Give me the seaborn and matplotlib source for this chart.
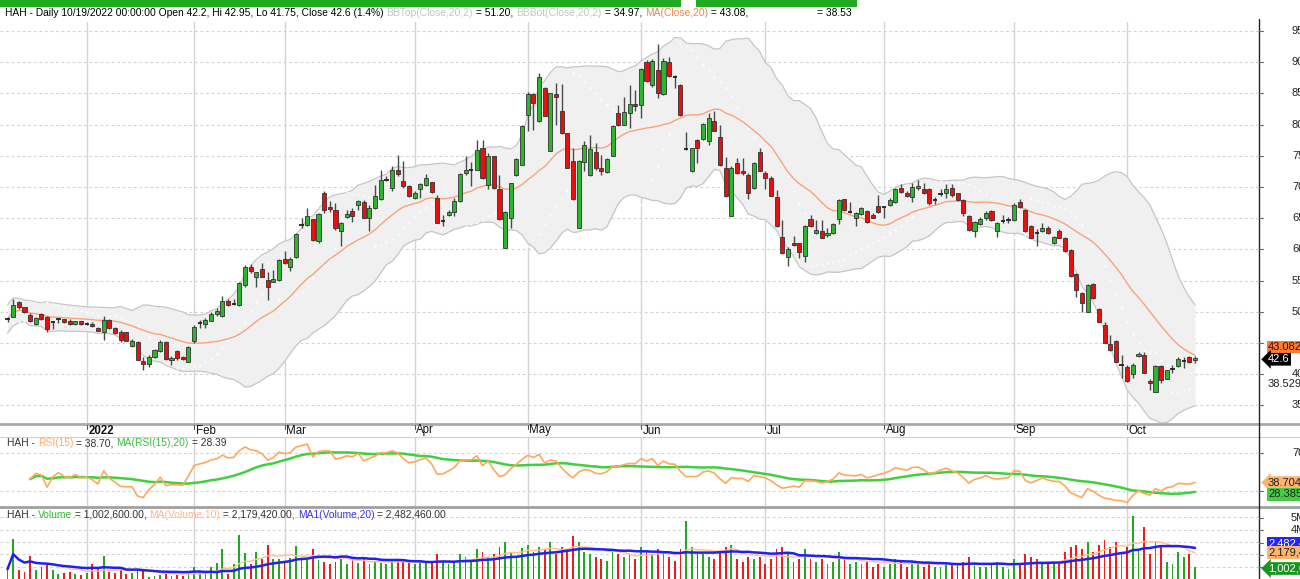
import numpy as np
import pandas as pd
import matplotlib
matplotlib.use("Agg")
import matplotlib.pyplot as plt
import seaborn as sns
from matplotlib.lines import Line2D
from matplotlib.patches import Rectangle

W, H = 1300, 579

# ---------------- data ----------------
opens = [48.75, 49.2, 51.5, 50.7, 49.5, 48.05, 49.65, 49.2, 48.25, 48.75, 48.8, 48.6, 48.0, 48.5, 48.05, 48.1, 47.4, 46.8, 48.7, 47.4,
         46.7, 46.7, 44.5, 45.2, 42.1, 41.6, 42.8, 43.7, 45.2, 42.2, 43.7, 42.7, 42.0, 45.3, 48.05, 48.05, 48.6, 49.66, 49.4, 51.8,
         51.2, 51.1, 54.3, 57.2, 55.5, 56.9, 55.1, 54.8, 55.1, 58.5, 57.2, 58.8, 63.8, 63.85, 64.8, 61.4, 69.1, 66.8, 66.3, 63.0,
         65.25, 66.1, 67.1, 67.6, 65.1, 66.7, 68.1, 71.05, 69.8, 72.8, 71.0, 70.2, 68.2, 69.6, 70.3, 70.75, 68.3, 64.4, 65.5, 66.0,
         67.8, 72.2, 72.65, 72.7, 76.3, 70.3, 74.9, 69.7, 60.3, 64.99, 71.9, 73.6, 81.5, 84.85, 80.5, 85.9, 75.8, 84.85, 82.2, 78.6,
         74.2, 63.5, 74.0, 72.0, 75.6, 73.0, 72.4, 75.0, 81.8, 80.0, 81.8, 83.3, 83.15, 89.98, 86.35, 88.75, 84.85, 90.0, 87.75, 86.35,
         75.95, 72.5, 77.5, 77.7, 77.4, 80.6, 77.96, 73.0, 65.4, 73.8, 72.6, 71.9, 69.8, 75.6, 72.2, 71.4, 68.35, 62.05, 58.8, 61.0,
         61.0, 58.9, 64.8, 62.7, 63.0, 62.25, 62.6, 64.8, 68.0, 66.0, 65.1, 65.7, 66.15, 65.5, 67.0, 66.65, 67.1, 67.65, 69.9, 69.0,
         68.45, 69.9, 69.7, 69.7, 67.75, 68.75, 69.0, 69.8, 69.0, 67.9, 65.35, 62.95, 64.0, 65.1, 66.15, 62.95, 64.4, 64.6, 64.7, 67.65,
         66.3, 63.75, 62.85, 63.0, 63.5, 61.0, 63.0, 61.9, 59.9, 56.0, 52.97, 50.0, 54.46, 50.5, 47.9, 44.8, 45.4, 41.35, 41.2, 40.0,
         42.9, 43.1, 38.9, 37.2, 41.3, 39.3, 40.7, 41.3, 42.05, 42.7, 42.2]
highs = [49.2, 52.0, 51.8, 50.8, 49.8, 49.2, 49.8, 49.3, 48.5, 49.0, 48.9, 48.85, 48.6, 48.6, 48.3, 48.4, 47.5, 49.3, 48.8, 47.6,
         47.1, 46.8, 45.6, 45.3, 42.7, 43.1, 44.1, 45.5, 45.3, 42.9, 43.9, 42.9, 44.5, 47.9, 48.7, 49.0, 49.9, 50.6, 52.6, 52.0,
         52.0, 54.8, 57.5, 57.7, 56.4, 57.8, 56.3, 56.7, 58.4, 59.7, 58.8, 62.7, 65.1, 66.7, 64.9, 65.8, 69.3, 67.8, 67.5, 64.4,
         66.3, 66.6, 67.9, 67.9, 67.1, 70.3, 72.7, 71.7, 73.3, 75.1, 74.1, 70.3, 69.3, 70.6, 72.1, 70.85, 68.7, 65.5, 66.3, 68.3,
         72.2, 74.9, 74.0, 77.5, 77.5, 75.4, 75.0, 71.9, 66.1, 70.7, 74.7, 79.9, 85.3, 85.0, 88.2, 86.1, 85.1, 86.6, 86.5, 78.7,
         76.2, 74.3, 77.3, 78.3, 77.0, 75.1, 74.6, 79.9, 83.1, 84.5, 86.3, 85.5, 89.0, 90.4, 90.5, 92.9, 90.7, 90.9, 87.9, 86.5,
         78.8, 76.3, 77.7, 80.2, 81.8, 82.1, 79.9, 74.8, 73.3, 74.6, 74.7, 72.2, 74.0, 76.2, 72.5, 71.7, 69.5, 64.7, 60.4, 62.1,
         61.1, 63.9, 65.5, 64.7, 64.7, 63.5, 64.2, 68.0, 68.1, 67.6, 66.05, 66.85, 66.3, 65.8, 68.7, 66.85, 68.3, 69.9, 70.5, 69.3,
         70.7, 71.1, 70.6, 69.8, 68.35, 69.6, 70.4, 70.4, 69.1, 68.0, 65.5, 64.6, 65.25, 66.2, 66.3, 64.45, 65.5, 65.2, 67.4, 68.0,
         66.4, 63.9, 63.2, 64.2, 63.75, 62.15, 63.2, 62.0, 60.0, 56.2, 53.2, 54.45, 54.55, 50.6, 48.3, 46.3, 45.5, 43.1, 41.5, 41.75,
         43.5, 43.5, 39.2, 41.4, 41.4, 40.7, 41.5, 42.7, 42.7, 42.9, 42.95]
lows = [48.4, 49.1, 50.4, 49.8, 48.3, 47.9, 48.7, 46.8, 47.2, 48.2, 48.2, 47.85, 47.9, 47.9, 47.9, 47.5, 46.9, 45.5, 47.3, 46.5,
        45.2, 45.3, 44.4, 42.2, 40.7, 41.2, 42.6, 43.5, 42.3, 41.5, 42.3, 42.2, 42.0, 45.0, 47.4, 47.4, 48.5, 49.4, 49.2, 51.0,
        51.1, 51.0, 54.0, 56.2, 54.0, 55.5, 51.9, 54.7, 54.9, 57.7, 56.6, 58.6, 63.4, 63.7, 61.4, 61.0, 65.9, 66.05, 63.1, 60.5,
        65.1, 64.4, 66.3, 65.0, 62.9, 66.5, 67.9, 70.9, 69.4, 71.8, 69.9, 68.4, 68.0, 68.3, 70.2, 69.0, 64.2, 63.8, 65.4, 65.4,
        67.6, 72.0, 70.2, 72.7, 71.3, 69.7, 69.7, 64.7, 60.2, 63.5, 71.8, 73.5, 79.0, 79.1, 80.4, 81.3, 75.8, 80.0, 78.45, 73.0,
        67.9, 63.4, 72.5, 71.8, 72.7, 71.9, 72.2, 74.9, 79.8, 79.9, 79.5, 82.2, 81.0, 86.9, 86.1, 84.2, 84.75, 87.7, 85.8, 81.4,
        75.9, 72.4, 73.8, 77.5, 76.7, 78.9, 73.4, 68.4, 65.4, 72.1, 72.0, 68.1, 69.7, 72.5, 69.7, 68.5, 63.6, 59.3, 57.3, 60.5,
        58.6, 58.0, 63.6, 62.45, 61.8, 62.0, 62.5, 64.1, 66.2, 65.9, 63.75, 65.5, 64.2, 65.0, 65.9, 65.0, 66.95, 67.5, 69.0, 68.35,
        67.65, 69.5, 68.9, 67.1, 67.3, 68.5, 68.2, 68.45, 67.8, 65.35, 63.0, 62.0, 63.9, 64.7, 64.6, 62.0, 64.3, 64.2, 64.6, 66.7,
        62.85, 61.8, 60.5, 62.8, 62.5, 60.9, 61.75, 59.6, 55.6, 52.4, 50.0, 49.95, 52.1, 48.3, 44.95, 43.7, 41.9, 39.35, 38.8, 39.35,
        42.8, 40.15, 37.4, 37.1, 38.55, 39.2, 40.15, 41.2, 40.95, 41.75, 41.75]
closes = [48.85, 51.1, 50.7, 49.9, 48.5, 49.0, 48.8, 47.25, 48.3, 48.85, 48.3, 48.1, 48.5, 48.0, 48.1, 47.7, 47.0, 48.7, 47.4, 46.6,
          45.5, 45.4, 45.4, 42.3, 41.6, 42.8, 43.8, 45.2, 42.4, 42.6, 42.6, 42.4, 44.4, 47.6, 48.15, 48.7, 49.7, 50.1, 51.7, 51.1,
          51.3, 54.57, 57.2, 56.5, 56.3, 55.6, 54.0, 55.2, 58.3, 57.9, 58.5, 62.5, 63.9, 65.35, 61.5, 65.7, 66.3, 66.4, 63.5, 64.3,
          65.7, 65.4, 67.8, 65.1, 66.7, 68.6, 71.1, 71.15, 72.8, 72.1, 70.1, 68.5, 69.0, 70.4, 71.4, 69.15, 64.3, 64.5, 66.0, 67.8,
          72.1, 72.8, 72.75, 75.9, 71.4, 74.9, 69.8, 64.8, 66.0, 70.6, 74.5, 79.8, 84.85, 83.4, 87.6, 81.4, 85.0, 84.4, 78.6, 73.1,
          68.0, 74.1, 76.8, 76.1, 73.0, 72.5, 74.5, 79.8, 79.9, 82.0, 83.25, 83.0, 88.86, 87.0, 90.2, 85.0, 90.2, 87.85, 87.7, 81.5,
          76.05, 76.2, 76.2, 80.05, 81.1, 79.0, 73.5, 68.5, 73.1, 72.2, 72.2, 69.0, 73.8, 72.6, 71.4, 68.6, 63.75, 59.4, 60.0, 60.7,
          59.6, 63.75, 63.75, 63.1, 61.9, 62.65, 64.0, 67.9, 66.3, 66.05, 65.8, 66.6, 64.4, 65.1, 66.0, 66.75, 67.9, 69.7, 69.15, 68.56,
          69.95, 70.15, 69.0, 67.4, 67.85, 68.85, 69.7, 68.7, 67.9, 65.9, 63.1, 64.45, 64.9, 65.8, 64.7, 64.3, 64.5, 64.7, 67.1, 66.85,
          63.0, 61.9, 62.7, 63.5, 62.6, 62.05, 61.9, 59.8, 55.7, 53.5, 51.47, 54.35, 52.15, 48.43, 45.06, 43.8, 42.0, 41.45, 38.9, 41.4,
          43.3, 40.25, 38.65, 41.3, 39.1, 40.6, 40.9, 42.4, 42.15, 41.9, 42.6]
volumes_m = [0.8, 3.24, 0.7, 0.6, 1.83, 0.7, 1.0, 1.1, 0.75, 0.4, 0.45, 0.6, 0.4, 0.3, 0.45, 1.2, 0.8, 1.9, 0.6, 0.45,
             0.75, 0.4, 0.5, 0.75, 0.7, 0.2, 0.25, 0.3, 0.4, 0.25, 0.3, 0.25, 0.6, 1.0, 0.6, 0.55, 1.0, 1.3, 2.4, 0.4,
             1.2, 3.6, 2.15, 1.2, 2.2, 1.6, 2.8, 1.6, 1.6, 1.35, 1.7, 2.7, 1.6, 1.55, 2.4, 1.55, 1.4, 1.2, 1.4, 1.6,
             1.2, 1.6, 1.3, 1.6, 1.2, 1.5, 1.3, 1.2, 1.5, 1.5, 1.4, 1.3, 1.2, 1.5, 1.3, 1.4, 2.0, 1.5, 1.2, 1.4,
             2.0, 1.8, 1.5, 2.4, 2.2, 1.8, 2.0, 2.6, 3.0, 2.2, 1.8, 2.5, 2.8, 2.2, 2.6, 2.4, 3.0, 2.0, 2.6, 2.4,
             3.5, 3.0, 2.2, 2.0, 1.8, 1.6, 1.5, 2.2, 2.0, 1.8, 2.0, 1.6, 2.6, 2.2, 2.0, 2.4, 2.2, 1.8, 1.5, 2.4,
             4.7, 2.6, 2.0, 2.0, 1.8, 1.6, 2.2, 2.6, 2.8, 1.6, 1.4, 1.8, 1.6, 1.8, 1.2, 1.6, 2.4, 2.6, 2.0, 1.4,
             1.6, 2.4, 1.6, 1.4, 1.6, 1.2, 1.4, 2.2, 1.6, 1.2, 1.4, 1.2, 1.4, 1.0, 1.2, 1.0, 1.2, 1.6, 1.4, 1.0,
             1.4, 1.2, 1.0, 1.4, 1.0, 1.0, 1.2, 1.2, 1.2, 1.4, 1.8, 1.4, 1.0, 1.0, 1.2, 1.4, 1.0, 0.8, 1.6, 1.2,
             2.0, 1.8, 1.6, 1.2, 1.2, 1.4, 1.2, 2.2, 2.6, 2.8, 2.4, 3.0, 2.2, 2.8, 3.2, 2.6, 3.0, 2.2, 2.6, 5.1,
             2.4, 4.2, 2.0, 3.0, 2.6, 1.4, 1.2, 2.2, 1.8, 2.0, 1.0026]
month_labels = ["2022", "Feb", "Mar", "Apr", "May", "Jun", "Jul", "Aug", "Sep", "Oct"]
month_index = [14, 33, 49, 72, 92, 112, 134, 155, 178, 198]
price_ticks = [95, 90, 85, 80, 75, 70, 65, 60, 55, 50, 45, 40, 35]

# ---------------- indicators ----------------
n = len(closes)
df = pd.DataFrame({"i": np.arange(n), "open": opens, "high": highs, "low": lows,
                   "close": closes, "vol": np.array(volumes_m) * 1e6})
df["ma20"] = df.close.rolling(20, min_periods=1).mean()
sd = df.close.rolling(20, min_periods=2).std(ddof=0).bfill()
df["bbtop"] = df.ma20 + 2 * sd
df["bbbot"] = df.ma20 - 2 * sd

delta = df.close.diff()
ag = delta.clip(lower=0).ewm(alpha=1 / 15, adjust=True).mean()
al = (-delta.clip(upper=0)).ewm(alpha=1 / 15, adjust=True).mean()
rsi = 100 * ag / (ag + al)
rsi[df.i < 4] = np.nan
df["rsi"] = rsi
df["rsima"] = df.rsi.rolling(20, min_periods=1).mean()
df["vma10"] = df.vol.rolling(10, min_periods=1).mean()
df["vma20"] = df.vol.rolling(20, min_periods=1).mean()


def psar(h, l, af0=0.02, afmax=0.2):
    m = len(h)
    s = np.zeros(m)
    bull, af, ep = True, af0, h[0]
    s[0] = l[0]
    for k in range(1, m):
        v = s[k - 1] + af * (ep - s[k - 1])
        if bull:
            v = min(v, l[k - 1], l[max(k - 2, 0)])
            if l[k] < v:
                bull, v, ep, af = False, ep, l[k], af0
            elif h[k] > ep:
                ep, af = h[k], min(af + af0, afmax)
        else:
            v = max(v, h[k - 1], h[max(k - 2, 0)])
            if h[k] > v:
                bull, v, ep, af = True, ep, h[k], af0
            elif l[k] < ep:
                ep, af = l[k], min(af + af0, afmax)
        s[k] = v
    return s


df["sar"] = psar(df.high.values, df.low.values)

# ---------------- figure ----------------
sns.set_style("white")
plt.rcParams["font.family"] = ["Liberation Sans", "DejaVu Sans"]
fig = plt.figure(figsize=(W / 100, H / 100), dpi=100)
fig.patch.set_facecolor("white")

X0, DX = 7.5, 5.655
XL = (-X0 / DX, (1259 - X0) / DX)


def ax_px(x0, y0, x1, y1):
    a = fig.add_axes([x0 / W, 1 - y1 / H, (x1 - x0) / W, (y1 - y0) / H])
    a.set_axis_off()
    a.set_xlim(*XL)
    return a


def fy(y):
    return 1 - y / H


def fx(x):
    return x / W


FS = 8.0
GREEN, RED = "#2db52d", "#e80f0f"

# ---- main price panel
ax = ax_px(0, 22, 1259, 423)
ax.set_ylim(32.18, 96.44)
for v in price_ticks:
    ax.axhline(v, color="#d2d2d2", lw=0.8, ls=(0, (2.5, 2.5)), zorder=0)
for m in month_index:
    ax.axvline(m, color="#d4d4d4", lw=1, zorder=0)
ax.fill_between(df.i, df.bbbot, df.bbtop, color="#f0f0f0", lw=0, zorder=1)
sns.lineplot(x=df.i, y=df.bbtop, ax=ax, color="#c6c6c6", lw=0.9, zorder=1.5, legend=False)
sns.lineplot(x=df.i, y=df.bbbot, ax=ax, color="#c6c6c6", lw=0.9, zorder=1.5, legend=False)
ax.scatter(df.i, df.sar, s=2.2, color="white", lw=0, zorder=2)
sns.lineplot(x=df.i, y=df.ma20, ax=ax, color="#f7a47c", lw=1.0, zorder=2.5, legend=False)
ax.set_axis_off()
ax.set_xlim(*XL)
ax.set_ylim(32.18, 96.44)

ax.vlines(df.i, df.low, df.high, color="#4a4a4a", lw=1, zorder=3)
body_lo = np.minimum(df.open, df.close)
body_h = (df.close - df.open).abs()
is_doji = body_h < 0.2
cols = np.where(df.close > df.open, GREEN, RED)
ax.bar(df.i[~is_doji], body_h[~is_doji], bottom=body_lo[~is_doji], width=0.72,
       color=cols[~is_doji], edgecolor="#333333", lw=0.6, zorder=4)
ax.hlines(df.close[is_doji], df.i[is_doji] - 0.38, df.i[is_doji] + 0.38, color="#222222", lw=1.3, zorder=4)

# ---- RSI panel
ar = ax_px(0, 437, 1259, 506)
ar.set_ylim(13.64, 87.43)
for v in [70, 30]:
    ar.axhline(v, color="#d2d2d2", lw=0.8, ls=(0, (2.5, 2.5)), zorder=0)
for m in month_index:
    ar.axvline(m, color="#d4d4d4", lw=1, zorder=0)
sns.lineplot(x=df.i, y=df.rsi, ax=ar, color="#ffa75c", lw=1.2, zorder=3, legend=False)
sns.lineplot(x=df.i, y=df.rsima, ax=ar, color="#3fcf3f", lw=1.8, zorder=2, legend=False)
ar.set_axis_off()
ar.set_xlim(*XL)
ar.set_ylim(13.64, 87.43)

# ---- Volume panel
av = ax_px(0, 508, 1259, 579)
av.set_ylim(0, 5.77e6)
for v in [1e6, 2e6, 3e6, 4e6, 5e6]:
    av.axhline(v, color="#d2d2d2", lw=0.8, ls=(0, (2.5, 2.5)), zorder=0)
for m in month_index:
    av.axvline(m, color="#d4d4d4", lw=1, zorder=0)
vcols = np.where(df.close > df.open, "#23a823", "#ee1c1c")
av.bar(df.i, df.vol, width=0.32, color=vcols, lw=0, zorder=2)
sns.lineplot(x=df.i, y=df.vma10, ax=av, color="#ffbf94", lw=1.0, zorder=3, legend=False)
sns.lineplot(x=df.i, y=df.vma20, ax=av, color="#2121ee", lw=1.8, zorder=4, legend=False)
av.set_axis_off()
av.set_xlim(*XL)
av.set_ylim(0, 5.77e6)

# ---- frame lines
def fline(x0, y0, x1, y1, **kw):
    fig.add_artist(Line2D([fx(x0), fx(x1)], [fy(y0), fy(y1)], transform=fig.transFigure, **kw))


fline(0, 423.8, 1300, 423.8, color="#a9a9a9", lw=2)
fline(0, 437, 1300, 437, color="#d0d0d0", lw=0.8)
fline(0, 507.3, 1300, 507.3, color="#a0a0a0", lw=2)
fline(1259, 19, 1259, 579, color="#222222", lw=1)

# top green bars
fig.add_artist(Rectangle((0, fy(7)), fx(681), 7 / H, transform=fig.transFigure, color="#22aa22", lw=0))
fig.add_artist(Rectangle((fx(696), fy(7)), fx(857 - 696), 7 / H, transform=fig.transFigure, color="#22aa22", lw=0))

# date labels
for lab, m in zip(month_labels, month_index):
    xp = X0 + DX * m
    fline(xp, 424.5, xp, 429, color="#555555", lw=0.8)
    fig.text(fx(xp + 1.5), fy(430.5), lab, fontsize=FS + 0.3, va="center", ha="left",
             color="#111111", fontweight="bold" if lab == "2022" else "normal")

# right-axis ticks / labels
def price_y(p):
    return 31 + (95 - p) * 6.24


for p in price_ticks:
    y = price_y(p)
    fline(1259, y, 1263, y, color="#666666", lw=0.8)
    if p != 45:
        fig.text(fx(1292), fy(y), str(p), fontsize=FS, va="center", ha="left", color="#222222")
fline(1259, 453.3, 1263, 453.3, color="#666666", lw=0.8)
fline(1259, 490.7, 1263, 490.7, color="#666666", lw=0.8)
fig.text(fx(1292), fy(453.3), "70", fontsize=FS, va="center", ha="left", color="#222222")
for y, t in [(517.7, "5M"), (530, "4M")]:
    fline(1259, y, 1263, y, color="#666666", lw=0.8)
    fig.text(fx(1291), fy(y), t, fontsize=FS, va="center", ha="left", color="#222222")
for y in [542.7, 555, 567]:
    fline(1259, y, 1263, y, color="#666666", lw=0.8)


def tag(x, y, s, fc, tc, arrow=False):
    style = "larrow,pad=0.12" if arrow else "square,pad=0.12"
    fig.text(fx(x), fy(y), s, fontsize=FS, va="center", ha="left", color=tc,
             bbox=dict(boxstyle=style, fc=fc, ec="none"))


tag(1268, 347, "43.082", "#ff7a35", "#3a1000")
tag(1268, 359.3, "42.6", "#000000", "white", arrow=True)
fig.text(fx(1268), fy(384), "38.529", fontsize=FS, va="center", ha="left", color="#222222")
tag(1268, 482.5, "38.704", "#ffb36b", "#222222", arrow=True)
tag(1268, 494.3, "28.385", "#45cc45", "#222222")
tag(1268, 543, "2,482,460", "#2424ff", "white")
tag(1268, 552.5, "2,179,420", "#ffb36b", "#222222")
tag(1268, 568.5, "1,002,600", "#14961e", "white", arrow=True)

# ---- header texts
renderer = fig.canvas.get_renderer()


def chain(x, y, parts, size):
    for s, c in parts:
        t = fig.text(fx(x), fy(y), s, fontsize=size, va="center", ha="left", color=c)
        bb = t.get_window_extent(renderer)
        x += bb.width


first = "HAH - Daily 10/19/2022 00:00:00 Open 42.2, Hi 42.95, Lo 41.75, Close 42.6 (1.4%) "
probe = fig.text(0, 0, first.strip(), fontsize=10)
wp = probe.get_window_extent(renderer).width
probe.remove()
HFS = 10 * 379 / wp

chain(5, 12.5, [(first, "#000000"), ("BBTop(Close,20,2)", "#c4c4c4"), (" = 51.20, ", "#000000"),
                ("BBBot(Close,20,2)", "#c4c4c4"), (" = 34.97, ", "#000000"),
                ("MA(Close,20)", "#f5844a"), (" = 43.08,", "#000000")], HFS)
fig.text(fx(817), fy(12.5), "= 38.53", fontsize=HFS, va="center", ha="left", color="#000000")

chain(7, 443.5, [("HAH - ", "#333333"), ("RSI(15)", "#ffab66"), (" = 38.70, ", "#333333"),
                 ("MA(RSI(15),20)", "#3cbf3c"), (" = 28.39", "#333333")], HFS)
chain(7, 514.5, [("HAH - ", "#333333"), ("Volume", "#3cb83c"), (" = 1,002,600.00, ", "#333333"),
                 ("MA(Volume,10)", "#ffb88a"), (" = 2,179,420.00, ", "#333333"),
                 ("MA1(Volume,20)", "#3535ee"), (" = 2,482,460.00", "#333333")], HFS)

fig.savefig("out.png", dpi=100, facecolor="white")
